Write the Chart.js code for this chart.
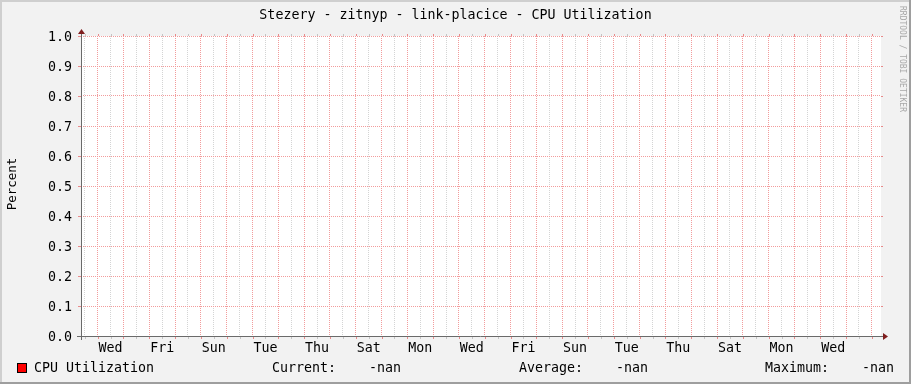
<!DOCTYPE html>
<html><head><meta charset="utf-8">
<script src="https://cdn.jsdelivr.net/npm/chart.js@4/dist/chart.umd.min.js"></script>
<style>html,body{margin:0;padding:0;background:#f2f2f2;overflow:hidden}#wrap{width:911px;height:384px}</style>
</head><body><div id="wrap"><canvas id="c" width="911" height="384"></canvas></div>
<script>
// ---- data ----
const chartTitle = 'Stezery - zitnyp - link-placice - CPU Utilization';
const yAxisTitle = 'Percent';
const seriesName = 'CPU Utilization';
const yTickValues = [0.0, 0.1, 0.2, 0.3, 0.4, 0.5, 0.6, 0.7, 0.8, 0.9, 1.0];
const dayLabels = ['Wed','Fri','Sun','Tue','Thu','Sat','Mon','Wed','Fri','Sun','Tue','Thu','Sat','Mon','Wed'];
const rangeHours = 744;          // 31 days shown
const firstMidnightHour = 15.5;  // hours from the left edge to the first midnight
const cpuTimes = [0, 744];
const cpuValues = [NaN, NaN];    // series is -nan everywhere
const legendLabels = ['Current:', 'Average:', 'Maximum:'];
const legendValues = ['-nan', '-nan', '-nan'];
const creditText = 'RRDTOOL / TOBI OETIKER';

const MONO = '"DejaVu Sans Mono", monospace';
const FS = 13.3;
const MGRID = '#f29c9c';
const GRID = '#d4d4d4';
const AXIS = '#6a6a6a';
const ARROW = '#801f1f';

function isMidnight(h){ const d = (h - firstMidnightHour) / 24; return Math.abs(d - Math.round(d)) < 1e-6; }
function xLabelFor(h){
  if (isMidnight(h)) return '';
  const idx = Math.round((h - firstMidnightHour - 12) / 24);
  if (idx >= 0 && idx % 2 === 0 && dayLabels[idx / 2] !== undefined) return dayLabels[idx / 2];
  return '';
}

const rrdPlugin = {
  id: 'rrd',
  beforeDraw(chart){
    const {ctx, chartArea: a} = chart;
    ctx.save();
    ctx.fillStyle = '#f2f2f2'; ctx.fillRect(0, 0, 911, 384);
    ctx.fillStyle = '#cfcfcf'; ctx.fillRect(0, 0, 911, 2); ctx.fillRect(0, 0, 2, 384);
    ctx.fillStyle = '#9e9e9e'; ctx.fillRect(0, 382, 911, 2); ctx.fillRect(909, 0, 2, 384);
    ctx.fillStyle = '#ffffff'; ctx.fillRect(a.left, a.top, a.right - a.left, a.bottom - a.top);
    ctx.restore();
  },
  afterDraw(chart){
    const {ctx, chartArea: a, scales} = chart;
    const xs = scales.x, ys = scales.y;
    ctx.save();
    ctx.lineWidth = 1;
    xs.ticks.forEach(t => {
      const px = Math.round(xs.getPixelForValue(t.value)) + 0.5;
      ctx.strokeStyle = isMidnight(t.value) ? '#e88a8a' : '#c4c4c4';
      ctx.beginPath(); ctx.moveTo(px, a.top - 2); ctx.lineTo(px, a.top); ctx.stroke();
      ctx.beginPath(); ctx.moveTo(px, a.bottom); ctx.lineTo(px, a.bottom + 3); ctx.stroke();
    });
    ys.ticks.forEach(t => {
      const py = Math.round(ys.getPixelForValue(t.value)) + 0.5;
      ctx.strokeStyle = '#e88a8a';
      ctx.beginPath(); ctx.moveTo(a.left - 3, py); ctx.lineTo(a.left, py); ctx.stroke();
      ctx.beginPath(); ctx.moveTo(a.right, py); ctx.lineTo(a.right + 2, py); ctx.stroke();
    });
    const x0 = Math.round(a.left) + 0.5, y0 = Math.round(a.bottom) + 0.5;
    ctx.strokeStyle = AXIS;
    ctx.beginPath(); ctx.moveTo(a.left - 4, y0); ctx.lineTo(a.right + 3, y0); ctx.stroke();
    ctx.beginPath(); ctx.moveTo(x0, a.bottom + 4); ctx.lineTo(x0, a.top - 3); ctx.stroke();
    ctx.fillStyle = ARROW;
    ctx.beginPath(); ctx.moveTo(a.right + 2, y0 - 3.5); ctx.lineTo(a.right + 7, y0); ctx.lineTo(a.right + 2, y0 + 3.5); ctx.closePath(); ctx.fill();
    ctx.beginPath(); ctx.moveTo(x0 - 3.5, a.top - 2); ctx.lineTo(x0, a.top - 7); ctx.lineTo(x0 + 3.5, a.top - 2); ctx.closePath(); ctx.fill();
    // title
    ctx.fillStyle = '#000';
    ctx.font = FS + 'px ' + MONO;
    ctx.textAlign = 'center'; ctx.textBaseline = 'middle';
    ctx.fillText(chartTitle, 455.5, 15.5);
    // y axis title
    ctx.save();
    ctx.translate(13, 184);
    ctx.rotate(-Math.PI / 2);
    ctx.font = '12.5px ' + MONO;
    ctx.fillText(yAxisTitle, 0, 0);
    ctx.restore();
    // legend
    ctx.fillStyle = '#ff0000';
    ctx.fillRect(17, 363, 10, 10);
    ctx.strokeStyle = '#000';
    ctx.strokeRect(17.5, 363.5, 9, 9);
    ctx.fillStyle = '#000';
    ctx.font = FS + 'px ' + MONO;
    ctx.textAlign = 'left';
    ctx.fillText(seriesName, 34, 369);
    const labX = [272, 519, 765], valX = [369, 616, 862];
    legendLabels.forEach((l, i) => { ctx.fillText(l, labX[i], 369); ctx.fillText(legendValues[i], valX[i], 369); });
    // credit
    ctx.save();
    ctx.translate(902.5, 6);
    ctx.rotate(Math.PI / 2);
    ctx.fillStyle = '#a8a8a8';
    ctx.font = '8px ' + MONO;
    ctx.textAlign = 'left'; ctx.textBaseline = 'middle';
    ctx.fillText(creditText, 0, 0);
    ctx.restore();
    ctx.restore();
  }
};

new Chart(document.getElementById('c'), {
  type: 'line',
  data: {
    datasets: [{
      label: seriesName,
      data: cpuTimes.map((t, i) => ({x: t, y: cpuValues[i]})),
      borderColor: '#ff0000', backgroundColor: '#ff0000', pointRadius: 0, spanGaps: false
    }]
  },
  options: {
    responsive: false, animation: false, devicePixelRatio: 1,
    layout: {padding: {left: 0, top: 36, right: 30, bottom: 0}},
    plugins: {legend: {display: false}, title: {display: false}, tooltip: {enabled: false}},
    scales: {
      x: {
        type: 'linear', min: 0, max: rangeHours,
        afterFit(s){ s.height = 48; },
        afterBuildTicks(s){
          const arr = [];
          for (let h = firstMidnightHour - 12; h <= rangeHours; h += 12) if (h >= 0) arr.push({value: h});
          s.ticks = arr;
        },
        ticks: {
          autoSkip: false, maxRotation: 0, minRotation: 0, padding: 5,
          color: '#000', font: {family: MONO, size: FS},
          callback: (v) => xLabelFor(v)
        },
        grid: {
          drawTicks: false, lineWidth: 1,
          color: (c) => (c.tick && isMidnight(c.tick.value)) ? MGRID : GRID
        },
        border: {display: false, dash: [1, 1]}
      },
      y: {
        type: 'linear', min: 0, max: 1,
        afterFit(s){ s.width = 81; },
        afterBuildTicks(s){ s.ticks = yTickValues.map(v => ({value: v})); },
        ticks: {
          padding: 9, labelOffset: 1.5, color: '#000', font: {family: MONO, size: FS},
          callback: (v) => Number(v).toFixed(1)
        },
        grid: {drawTicks: false, lineWidth: 1, color: MGRID},
        border: {display: false, dash: [1, 1]}
      }
    }
  },
  plugins: [rrdPlugin]
});
</script>
</body></html>
